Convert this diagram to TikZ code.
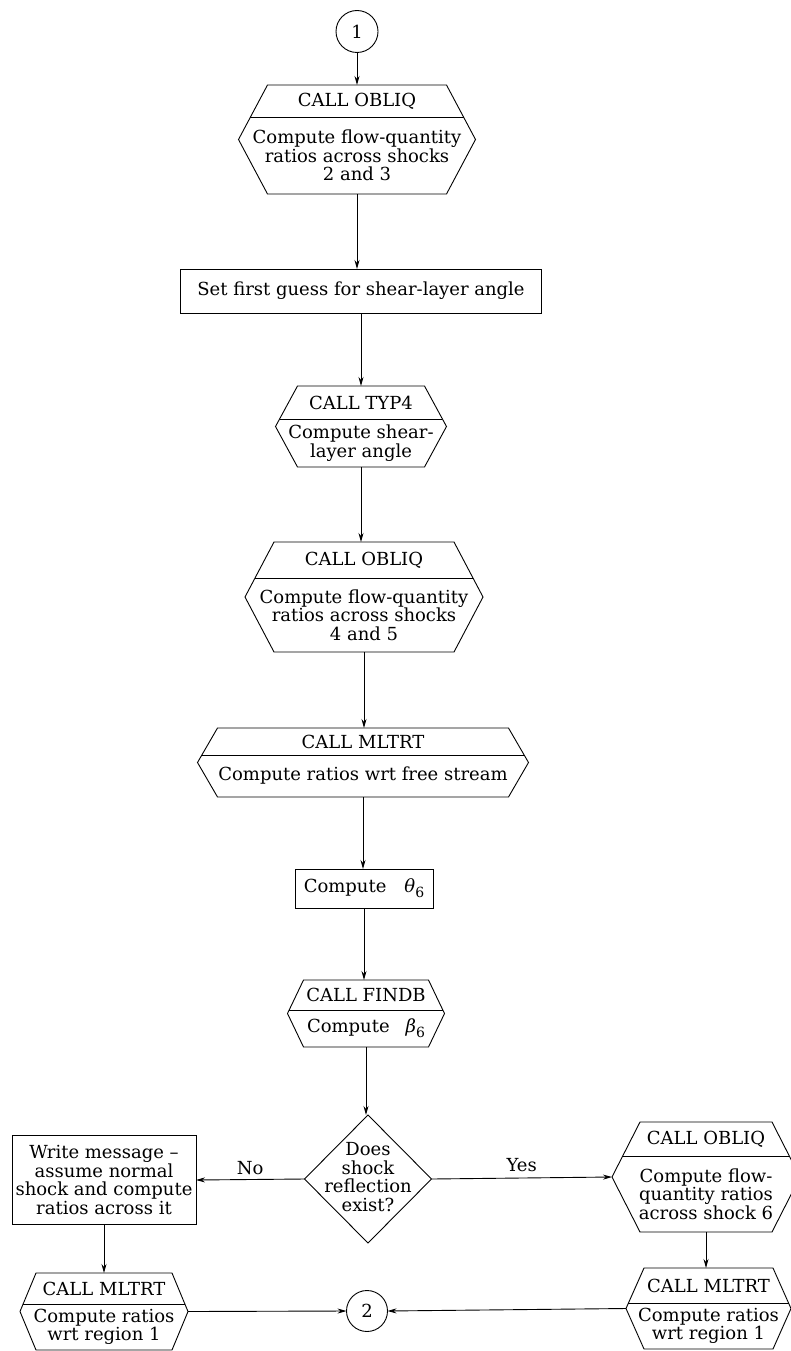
\documentclass[tikz,border=0pt]{standalone}
\usepackage{fontspec}
\setmainfont{DejaVu Serif}
\usetikzlibrary{arrows.meta,shapes.geometric}
\newcommand{\flowfont}{\fontsize{18}{18.5}\selectfont}
% italic Greek symbol with a lowered subscript digit
\newcommand{\greeksub}[2]{{\itshape #1}\raisebox{-5pt}{\fontsize{14}{14}\selectfont #2}}
\tikzset{
  line/.style={line width=0.9pt, draw=black},
  flow/.style={line, -{Stealth[length=9pt,width=5pt]}},
  txt/.style={font=\flowfont, align=center, inner sep=0pt},
  frame/.style={inner sep=0pt, outer sep=0pt},
  procbox/.style={line, rectangle, font=\flowfont, align=center, inner sep=0pt, outer sep=0pt},
  conn/.style={line, circle, font=\flowfont, inner sep=0pt, outer sep=0pt, minimum size=42pt},
  decision/.style={line, diamond, inner sep=0pt, outer sep=0pt, minimum width=127pt, minimum height=128pt}
}
% Subroutine-call block: hexagon split by a horizontal rule.
% #1 name, #2 centre x, #3 top y, #4 bottom y, #5 half width (tip to tip),
% #6 horizontal inset of the top/bottom corners, #7 y of the rule,
% #8 upper text, #9 lower text
\newcommand{\callshape}[9]{%
  \node[frame, minimum width={2*#5pt}, minimum height={(#4-#3)*1pt}] (#1) at (#2,{(#3+#4)/2}) {};
  \draw[line] (#2-#5+#6,#3) -- (#2+#5-#6,#3) -- (#2+#5,{(#3+#4)/2})
    -- (#2+#5-#6,#4) -- (#2-#5+#6,#4) -- (#2-#5,{(#3+#4)/2}) -- cycle;
  \draw[line] ({#2-#5+#6*((#4-#3)/2-(#7-#3))/((#4-#3)/2)},#7)
    -- ({#2+#5-#6*((#4-#3)/2-(#7-#3))/((#4-#3)/2)},#7);
  \node[txt] (#1-head) at (#2,{(#3+#7)/2}) {#8};
  \node[txt] (#1-body) at (#2,{(#7+#4)/2}) {#9};
}
\begin{document}
\begin{tikzpicture}[x=1pt,y=-1pt]
\useasboundingbox (0,0) rectangle (791,1351);

% main column
\node[conn] (c1) at (357,31.5) {1};
\callshape{obliqA}{357}{85}{194}{118.5}{29}{117.5}{CALL OBLIQ}{Compute flow-quantity\\ratios across shocks\\2 and 3}
\node[procbox, minimum width=361pt, minimum height=44pt] (guess) at (361,291) {Set first guess for shear-layer angle};
\callshape{typ}{361}{386}{467}{85.5}{22}{419}{CALL TYP4}{Compute shear-\\layer angle}
\callshape{obliqB}{364}{542}{652}{119}{29}{578}{CALL OBLIQ}{Compute flow-quantity\\ratios across shocks\\4 and 5}
\callshape{mltA}{363}{728}{797}{165.5}{20}{755}{CALL MLTRT}{Compute ratios wrt free stream}
\node[procbox, minimum width=138pt, minimum height=39pt] (theta) at (364,888.5) {Compute\hspace{18pt}\greeksub{θ}{6}};
\callshape{findb}{366}{980}{1047}{78.5}{16}{1010}{CALL FINDB}{Compute\hspace{16pt}\greeksub{β}{6}}
\node[decision] (dec) at (368,1179) {};
\node[txt] (dectext) at (368,1177) {Does\\shock\\reflection\\exist?};

% branches
\node[procbox, minimum width=184pt, minimum height=89pt] (msg) at (104,1180) {Write message --\\assume normal\\shock and compute\\ratios across it};
\callshape{obliqC}{706}{1122}{1232}{94}{28}{1156}{CALL OBLIQ}{Compute flow-\\quantity ratios\\across shock 6}
\callshape{mltL}{104}{1273}{1350}{84}{16}{1304}{CALL MLTRT}{Compute ratios\\wrt region 1}
\callshape{mltR}{708.5}{1268}{1349}{82.5}{18}{1303}{CALL MLTRT}{Compute ratios\\wrt region 1}
\node[conn, minimum size=41pt] (c2) at (367,1311) {2};

% connectors
\draw[flow] (c1.south) -- (c1.south |- obliqA.north);
\draw[flow] (obliqA.south) -- (obliqA.south |- guess.north);
\draw[flow] (guess.south) -- (guess.south |- typ.north);
\draw[flow] (typ.south) -- (typ.south |- obliqB.north);
\draw[flow] (obliqB.south) -- (obliqB.south |- mltA.north);
\draw[flow] (mltA.south) -- (mltA.south |- theta.north);
\draw[flow] (theta.south) -- (theta.south |- findb.north);
\draw[flow] (findb.south) -- (findb.south |- dec.north);
\draw[flow] (dec.west) -- node[txt, above=4pt] {No} (msg.east);
\draw[flow] (dec.east) -- node[txt, above=6pt] {Yes} (obliqC.west);
\draw[flow] (msg.south) -- (msg.south |- mltL.north);
\draw[flow] (obliqC.south) -- (obliqC.south |- mltR.north);
\draw[flow] (mltL.east) -- (c2.west);
\draw[flow] (mltR.west) -- (c2.east);
\end{tikzpicture}
\end{document}
